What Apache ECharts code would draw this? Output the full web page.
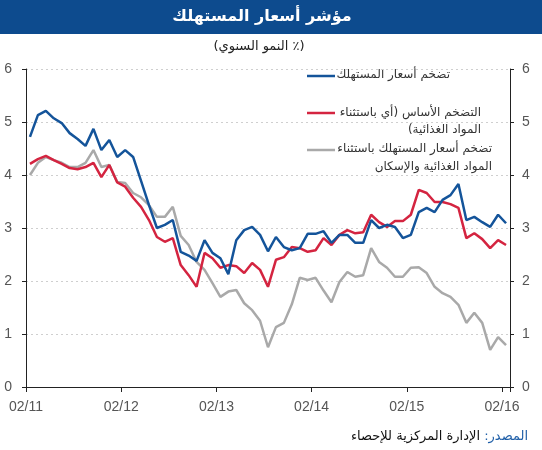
<!DOCTYPE html>
<html><head><meta charset="utf-8">
<script src="https://cdn.jsdelivr.net/npm/echarts@6/dist/echarts.min.js"></script>
<style>html,body{margin:0;padding:0;background:#fff}#c{width:542px;height:450px}#c canvas{direction:rtl}</style>
</head><body><div id="c"></div>
<script>
// Monthly, Feb 2011 .. Feb 2016 (61 months)
const tickLabels = ['02/11','02/12','02/13','02/14','02/15','02/16'];
const cpi = [4.72,5.13,5.21,5.07,4.98,4.79,4.68,4.55,4.87,4.47,4.66,4.34,4.47,4.34,3.89,3.43,3.0,3.06,3.15,2.55,2.48,2.38,2.77,2.53,2.43,2.13,2.77,2.96,3.02,2.87,2.56,2.83,2.64,2.58,2.62,2.89,2.89,2.94,2.72,2.87,2.87,2.72,2.72,3.15,3.0,3.06,3.02,2.81,2.87,3.30,3.38,3.30,3.53,3.62,3.83,3.15,3.21,3.11,3.02,3.25,3.09];
const core = [4.21,4.30,4.36,4.28,4.21,4.13,4.11,4.15,4.23,3.96,4.19,3.86,3.78,3.57,3.40,3.15,2.83,2.74,2.81,2.30,2.11,1.89,2.53,2.43,2.25,2.30,2.28,2.15,2.34,2.21,1.89,2.40,2.45,2.64,2.62,2.55,2.58,2.81,2.68,2.87,2.96,2.90,2.92,3.25,3.11,3.02,3.13,3.13,3.25,3.72,3.66,3.49,3.49,3.45,3.38,2.81,2.90,2.79,2.62,2.77,2.68];
const exFoodHousing = [4.0,4.23,4.34,4.28,4.23,4.15,4.15,4.23,4.47,4.15,4.19,3.87,3.85,3.66,3.58,3.43,3.21,3.21,3.40,2.85,2.68,2.36,2.21,1.96,1.70,1.80,1.83,1.58,1.45,1.25,0.75,1.13,1.21,1.56,2.06,2.02,2.06,1.82,1.60,1.98,2.17,2.08,2.11,2.62,2.36,2.25,2.08,2.08,2.25,2.26,2.15,1.89,1.77,1.70,1.55,1.21,1.40,1.21,0.70,0.94,0.79];
const seriesNames = ['تضخم أسعار المستهلك','التضخم الأساس (أي باستثناء المواد الغذائية)','تضخم أسعار المستهلك باستثناء المواد الغذائية والإسكان'];

const toPairs = arr => arr.map((v, i) => [i + 0.5, v]);
const AR = '"DejaVu Sans", Arial, sans-serif';
const LAT = 'Arial, "Liberation Sans", sans-serif';
const chart = echarts.init(document.getElementById('c'));
const yCommon = {
  type: 'value', min: 0, max: 6, interval: 1,
  axisLine: {show: true, lineStyle: {color: '#222', width: 1}},
  axisTick: {show: true, length: 4, lineStyle: {color: '#222'}},
  axisLabel: {color: '#555', fontSize: 14, fontFamily: LAT, margin: 14}
};
chart.setOption({
  animation: false,
  grid: {left: 26, right: 32, top: 69, bottom: 63},
  xAxis: {
    type: 'value', min: 0, max: 61, interval: 12,
    axisLine: {lineStyle: {color: '#222', width: 1}},
    axisTick: {length: 5, lineStyle: {color: '#222'}},
    splitLine: {show: false},
    axisLabel: {color: '#555', fontSize: 14, fontFamily: LAT, margin: 13,
      formatter: v => (v % 12 === 0 ? tickLabels[v / 12] : '')}
  },
  yAxis: [
    Object.assign({}, yCommon, {position: 'left',
      splitLine: {show: true, lineStyle: {color: '#cfcfcf', type: [2, 3], width: 1}}}),
    Object.assign({}, yCommon, {position: 'right', splitLine: {show: false},
      axisLabel: Object.assign({}, yCommon.axisLabel, {margin: 12})})
  ],
  series: [
    {name: seriesNames[2], type: 'line', data: toPairs(exFoodHousing), symbol: 'none',
      lineStyle: {color: '#a9a9a9', width: 2.5}},
    {name: seriesNames[1], type: 'line', data: toPairs(core), symbol: 'none',
      lineStyle: {color: '#d42440', width: 2.5}},
    {name: seriesNames[0], type: 'line', data: toPairs(cpi), symbol: 'none',
      lineStyle: {color: '#14549a', width: 2.5}}
  ],
  graphic: [
    {type: 'rect', left: 0, top: 0, shape: {width: 542, height: 34}, style: {fill: '#0d4b8e'}},
    {type: 'text', x: 262, y: 17, style: {text: 'مؤشر أسعار المستهلك', fill: '#fff',
      font: 'bold 16px ' + AR, textAlign: 'center', textVerticalAlign: 'middle'}},
    {type: 'text', x: 259, y: 47, style: {text: '(٪ النمو السنوي)', fill: '#222',
      font: '13px ' + AR, textAlign: 'center', textVerticalAlign: 'middle'}},
    // legend
    {type: 'line', shape: {x1: 307, y1: 76, x2: 335, y2: 76}, style: {stroke: '#14549a', lineWidth: 2.5}},
    {type: 'text', x: 450, y: 75, style: {text: 'تضخم أسعار المستهلك', fill: '#333', font: '12px ' + AR, textAlign: 'right', textVerticalAlign: 'middle'}},
    {type: 'line', shape: {x1: 307, y1: 113, x2: 335, y2: 113}, style: {stroke: '#d42440', lineWidth: 2.5}},
    {type: 'text', x: 481, y: 113, style: {text: 'التضخم الأساس (أي باستثناء', fill: '#333', font: '12px ' + AR, textAlign: 'right', textVerticalAlign: 'middle'}},
    {type: 'text', x: 481, y: 130, style: {text: 'المواد الغذائية)', fill: '#333', font: '12px ' + AR, textAlign: 'right', textVerticalAlign: 'middle'}},
    {type: 'line', shape: {x1: 307, y1: 150, x2: 335, y2: 150}, style: {stroke: '#a9a9a9', lineWidth: 2.5}},
    {type: 'text', x: 492, y: 149, style: {text: 'تضخم أسعار المستهلك باستثناء', fill: '#333', font: '12px ' + AR, textAlign: 'right', textVerticalAlign: 'middle'}},
    {type: 'text', x: 492, y: 167, style: {text: 'المواد الغذائية والإسكان', fill: '#333', font: '12px ' + AR, textAlign: 'right', textVerticalAlign: 'middle'}},
    // source
    {type: 'text', x: 528, y: 437, style: {rich: {a: {fill: '#1f5fa8', font: '13px ' + AR}, b: {fill: '#111', font: '13px ' + AR}},
      text: '{b|الإدارة المركزية للإحصاء}{a|المصدر: }', textAlign: 'right', textVerticalAlign: 'middle'}}
  ]
});
</script></body></html>
